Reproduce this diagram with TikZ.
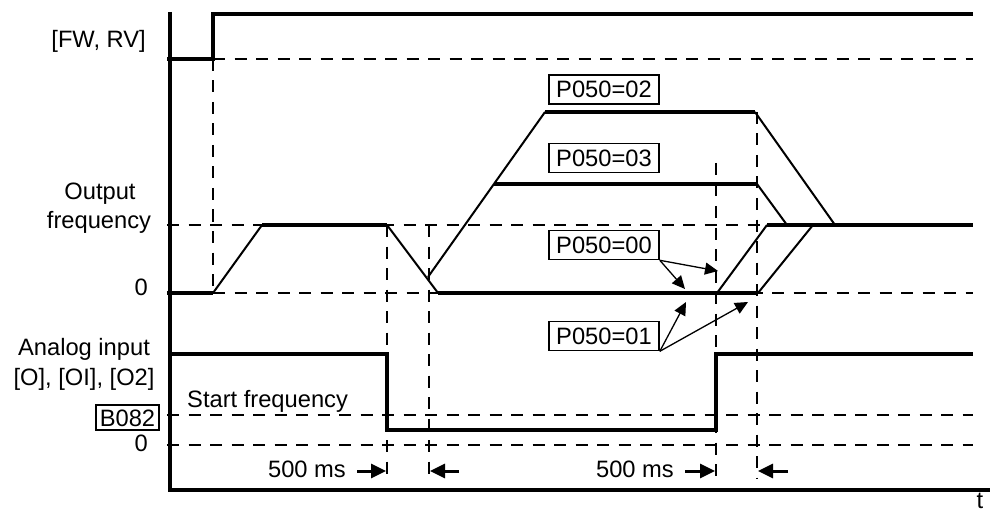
\documentclass[tikz,border=0pt]{standalone}
\usepackage{fontspec}
\setmainfont{Liberation Sans}
\usetikzlibrary{arrows.meta}
\begin{document}
\begin{tikzpicture}[x=1pt,y=-1pt,
  font=\fontsize{23.7}{27}\selectfont,
  sig/.style={line width=3.2pt},
  ramp/.style={line width=2pt},
  guide/.style={line width=2.4pt, dash pattern=on 12pt off 9.5pt},
  lbl/.style={inner sep=0pt},
  pbox/.style={draw, line width=1.6pt, minimum width=110pt, minimum height=29pt,
    inner sep=0pt, text height=17pt, text depth=0pt},
  bbox/.style={draw, line width=1.6pt, minimum width=63pt, minimum height=25pt,
    inner sep=0pt, text height=17pt, text depth=0pt},
  parrow/.style={line width=1.3pt, -{Triangle[length=13pt,width=12pt]}},
  tarrow/.style={line width=3pt, -{Triangle[length=15pt,width=14pt]}}]
\useasboundingbox (0,0) rectangle (990,513);

% guide lines (dashed)
\draw[guide] (213,59) -- (973,59);
\draw[guide] (167,225) -- (973,225);
\draw[guide] (213,293) -- (973,293);
\draw[guide] (167,415) -- (973,415);
\draw[guide] (167,445) -- (973,445);
\draw[guide] (213,59) -- (213,293);
\draw[guide] (387,225) -- (387,478);
\draw[guide] (429,225) -- (429,478);
\draw[guide] (716,163) -- (716,478);
\draw[guide] (757,112) -- (757,478);

% axes
\draw[sig] (170,12) -- (170,490) -- (990,490);

% FW, RV signal
\draw[sig] (167,59) -- (213,59) -- (213,14) -- (973,14);

% output frequency
\draw[sig] (167,293) -- (213,293);
\draw[ramp] (213,293) -- (262,225);
\draw[sig] (262,225) -- (387,225);
\draw[ramp] (387,225) -- (438,293);
\draw[sig] (438,293) -- (758,293);
\draw[ramp] (428,277) -- (545,112);
\draw[sig] (545,112) -- (755,112);
\draw[ramp] (755,112) -- (835,225);
\draw[sig] (494,184) -- (757,184);
\draw[ramp] (757,184) -- (787,225);
\draw[ramp] (717,293) -- (767,225);
\draw[ramp] (758,293) -- (813,225);
\draw[sig] (767,225) -- (973,225);

% analog input
\draw[sig] (170,354) -- (387,354) -- (387,430) -- (716,430) -- (716,354) -- (973,354);

% labels
\node[lbl, anchor=base east] (fw) at (146,48) {[FW, RV]};
\node[lbl, anchor=base] (out1) at (100,200) {Output};
\node[lbl, anchor=base] (out2) at (99,228) {frequency};
\node[lbl, anchor=base east] (z1) at (148,295) {0};
\node[lbl, anchor=base] (an1) at (84,355) {Analog input};
\node[lbl, anchor=base] (an2) at (84,385) {[O], [OI], [O2]};
\node[bbox] (b082) at (127.5,417.5) {B082};
\node[lbl, anchor=base east] (z2) at (148,451) {0};
\node[lbl, anchor=base west] (sf) at (187,407) {Start frequency};
\node[lbl, anchor=base east] (ms1) at (346,477) {500 ms};
\node[lbl, anchor=base east] (ms2) at (674,477) {500 ms};
\node[lbl, anchor=base] (t) at (980,508) {t};

% P050 boxes
\node[pbox] (p02) at (604,89.5) {P050=02};
\node[pbox] (p03) at (604,158) {P050=03};
\node[pbox] (p00) at (604,245) {P050=00};
\node[pbox] (p01) at (604,336) {P050=01};

% arrow targets
\coordinate (t00a) at (685,289);
\coordinate (t00b) at (718,271);
\coordinate (t01a) at (686,302);
\coordinate (t01b) at (748,302);
\draw[parrow] (p00.south east) -- (t00a);
\draw[parrow] (p00.south east) -- (t00b);
\draw[parrow] (p01.south east) -- (t01a);
\draw[parrow] (p01.south east) -- (t01b);

% 500 ms arrows
\coordinate (a1s) at (357,471);
\coordinate (a1e) at (386,471);
\coordinate (a2s) at (459,471);
\coordinate (a2e) at (430,471);
\coordinate (a3s) at (685,471);
\coordinate (a3e) at (715,471);
\coordinate (a4s) at (788,471);
\coordinate (a4e) at (758,471);
\draw[tarrow] (a1s) -- (a1e);
\draw[tarrow] (a2s) -- (a2e);
\draw[tarrow] (a3s) -- (a3e);
\draw[tarrow] (a4s) -- (a4e);
\end{tikzpicture}
\end{document}
